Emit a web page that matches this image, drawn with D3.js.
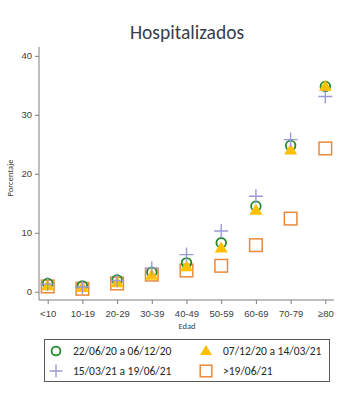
<!DOCTYPE html>
<html><head><meta charset="utf-8">
<script src="https://cdn.jsdelivr.net/npm/d3@7"></script>
<style>
html,body{margin:0;padding:0;background:#fff;}
svg{display:block;font-family:Calibri,"Liberation Sans",Carlito,"Open Sans",sans-serif;}
</style></head>
<body>
<svg id="c" width="356" height="410"></svg>
<script>
const categories = ["<10","10-19","20-29","30-39","40-49","50-59","60-69","70-79","≥80"];
const seriesNames = ["22/06/20 a 06/12/20","07/12/20 a 14/03/21","15/03/21 a 19/06/21",">19/06/21"];
const s1 = [1.4, 1.0, 2.0, 3.3, 4.9, 8.3, 14.5, 24.8, 34.8];
const s2 = [1.0, 0.7, 1.5, 2.8, 4.2, 7.4, 13.8, 24.0, 34.8];
const s3 = [1.3, 0.8, 1.9, 4.0, 6.3, 10.3, 16.2, 25.8, 33.1];
const s4 = [0.9, 0.5, 1.4, 2.9, 3.6, 4.4, 7.9, 12.4, 24.3];
const yTicks = [0, 10, 20, 30, 40];

const svg = d3.select("#c");
const x = d3.scalePoint().domain(categories).range([39, 334]).padding(0.25);
const y = d3.scaleLinear().domain([-1.4, 41.5]).range([300, 47]);
const axisColor = "#7f7f7f";
const textColor = "#404040";

svg.append("text").attr("x", 187).attr("y", 39).attr("text-anchor", "middle")
  .attr("font-size", 19.5).attr("fill", "#333f50").text("Hospitalizados");

const ya = svg.append("g").attr("transform", "translate(39,0)")
  .call(d3.axisLeft(y).tickValues(yTicks).tickSize(4).tickPadding(3).tickFormat(d3.format("d")));
ya.select(".domain").attr("stroke", axisColor).attr("d", "M0,47V300");
ya.selectAll(".tick line").attr("stroke", axisColor);
ya.selectAll(".tick text").attr("fill", textColor).attr("font-size", 9.5).style("font-family","inherit");

const xa = svg.append("g").attr("transform", "translate(0,300)")
  .call(d3.axisBottom(x).tickSize(4).tickPadding(6));
xa.select(".domain").attr("stroke", axisColor).attr("d", "M39,0H334");
xa.selectAll(".tick line").attr("stroke", axisColor);
xa.selectAll(".tick text").attr("fill", textColor).attr("font-size", 9.5).style("font-family","inherit");

svg.append("text").attr("transform", "translate(13,178) rotate(-90)").attr("text-anchor", "middle")
  .attr("font-size", 8.5).attr("fill", textColor).text("Porcentaje");
svg.append("text").attr("x", 187).attr("y", 329).attr("text-anchor", "middle")
  .attr("font-size", 8.5).attr("fill", textColor).text("Edad");

const green = "#1f8a2a", gold = "#ffc000", lav = "#9a9ad6", orange = "#e8893a";

function drawSym(g, type, cx, cy, big) {
  const k = big ? 1 : 0.92;
  if (type === 0) {
    g.append("circle").attr("cx", cx).attr("cy", cy).attr("r", 4.8 * k)
      .attr("fill", "none").attr("stroke", green).attr("stroke-width", 1.8);
  } else if (type === 1) {
    const h = 11 * k, w = 13 * k;
    g.append("path").attr("d", `M${cx},${cy - h * 0.6}L${cx + w / 2},${cy + h * 0.4}L${cx - w / 2},${cy + h * 0.4}Z`)
      .attr("fill", gold);
  } else if (type === 2) {
    const a = 7 * k;
    g.append("path").attr("d", `M${cx - a},${cy}H${cx + a}M${cx},${cy - a}V${cy + a}`)
      .attr("stroke", lav).attr("stroke-width", 1.4).attr("fill", "none");
  } else {
    const a = 6.3 * k;
    g.append("rect").attr("x", cx - a).attr("y", cy - a).attr("width", 2 * a).attr("height", 2 * a)
      .attr("fill", "none").attr("stroke", orange).attr("stroke-width", 1.5);
  }
}

const series = [s1, s2, s3, s4];
const order = [3, 0, 1, 2];
const pg = svg.append("g");
order.forEach(si => {
  series[si].forEach((v, i) => drawSym(pg, si, x(categories[i]), y(v), true));
});

// legend
const lg = svg.append("g");
lg.append("rect").attr("x", 44.5).attr("y", 339.5).attr("width", 285).attr("height", 42)
  .attr("fill", "none").attr("stroke", "#595959").attr("stroke-width", 1);
const lpos = [[56, 351, 73], [206, 351, 223], [56, 371, 73], [206, 371, 223]];
seriesNames.forEach((n, i) => {
  const [sx, sy, tx] = lpos[i];
  drawSym(lg, i, sx, sy, false);
  lg.append("text").attr("x", tx).attr("y", sy + 4).attr("font-size", 11.5)
    .attr("fill", "#262626").text(n);
});
</script>
</body></html>
